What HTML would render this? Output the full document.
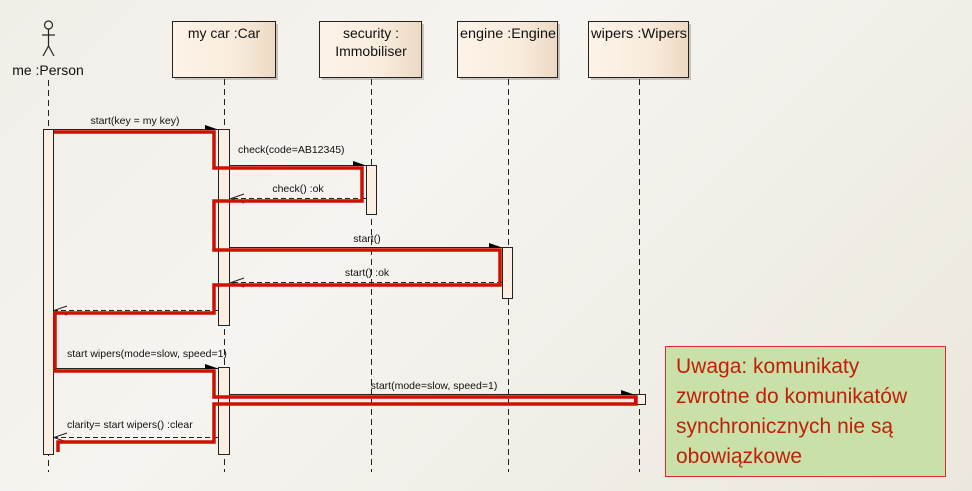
<!DOCTYPE html>
<html><head><meta charset="utf-8"><style>
html,body{margin:0;padding:0}
body{width:972px;height:491px;overflow:hidden;background:linear-gradient(135deg,#f1eee8 0%,#f6f4f0 40%,#ebe7dd 100%);font-family:"Liberation Sans",sans-serif}
svg{position:absolute;left:0;top:0}
.note{position:absolute;left:665px;top:346px;width:281px;height:131px;background:#c9e0a8;border:1px solid #d03030;color:#c0200a;font-family:"Liberation Sans",sans-serif;font-size:21px;line-height:30px;padding:5px 0 0 10px;box-sizing:border-box;white-space:nowrap}
</style></head><body>
<svg width="972" height="491" xmlns="http://www.w3.org/2000/svg" font-family="Liberation Sans, sans-serif">
<defs>
<linearGradient id="g" x1="0" x2="1" y1="0" y2="0"><stop offset="0" stop-color="#fdf3e8"/><stop offset="0.6" stop-color="#f9ecdd"/><stop offset="1" stop-color="#ecd9c3"/></linearGradient>
</defs>
<g fill="#c8c2b8">
<rect x="175" y="24" width="103" height="56"/><rect x="322" y="24" width="102" height="56"/><rect x="460" y="24" width="100" height="56"/><rect x="591" y="24" width="100" height="56"/>
</g>
<g fill="url(#g)" stroke="#222" stroke-width="1">
<rect x="172.5" y="21.5" width="103" height="56"/><rect x="319.5" y="21.5" width="102" height="56"/><rect x="457.5" y="21.5" width="100" height="56"/><rect x="588.5" y="21.5" width="100" height="56"/>
</g>
<g font-size="14" fill="#111" text-anchor="middle">
<text x="224" y="38">my car :Car</text>
<text x="371" y="38">security :</text><text x="371" y="56">Immobiliser</text>
<text x="508" y="38" textLength="96" lengthAdjust="spacingAndGlyphs">engine :Engine</text>
<text x="639" y="38" textLength="96" lengthAdjust="spacingAndGlyphs">wipers :Wipers</text>
<text x="48" y="75">me :Person</text>
</g>
<g stroke="#222" stroke-width="1.2" fill="none">
<circle cx="48.5" cy="25" r="4"/><line x1="48.5" y1="29" x2="48.5" y2="46"/><line x1="42" y1="35" x2="55" y2="35"/><line x1="48.5" y1="46" x2="43" y2="56"/><line x1="48.5" y1="46" x2="54" y2="56"/>
</g>
<g stroke="#222" stroke-width="1" stroke-dasharray="6,4">
<line x1="48.5" y1="80" x2="48.5" y2="472"/><line x1="224.5" y1="79" x2="224.5" y2="472"/><line x1="371.5" y1="79" x2="371.5" y2="472"/><line x1="508.5" y1="79" x2="508.5" y2="472"/><line x1="639.5" y1="79" x2="639.5" y2="472"/>
</g>
<g fill="#fbefe3" stroke="#222" stroke-width="1">
<rect x="43.5" y="129.5" width="10" height="325"/>
<rect x="218.5" y="129.5" width="11" height="196"/>
<rect x="218.5" y="367.5" width="11" height="87"/>
<rect x="366.5" y="165.5" width="10" height="49"/>
<rect x="502.5" y="247.5" width="10" height="51"/>
<rect x="634.5" y="394.5" width="11" height="10"/>
</g>
<g stroke="#222" stroke-width="1" fill="none">
<line x1="53" y1="129.5" x2="218" y2="129.5"/>
<line x1="229" y1="165.5" x2="366" y2="165.5"/>
<line x1="229" y1="247.5" x2="502" y2="247.5"/>
<line x1="53" y1="368.5" x2="218" y2="368.5"/>
<line x1="229" y1="394.5" x2="634" y2="394.5"/>
<g stroke-dasharray="5,3">
<line x1="366" y1="198.5" x2="230" y2="198.5"/>
<line x1="502" y1="282.5" x2="230" y2="282.5"/>
<line x1="218" y1="310.5" x2="54" y2="310.5"/>
<line x1="218" y1="437.5" x2="54" y2="437.5"/>
</g>
<path d="M244 194 L231 198.5 L244 203"/><path d="M244 278 L231 282.5 L244 287"/><path d="M67 306 L54 310.5 L67 315"/><path d="M67 433 L54 437.5 L67 442"/>
</g>
<g fill="#000">
<path d="M205 125 L218 129.5 L205 130 Z"/><path d="M353 161 L366 165.5 L353 166 Z"/><path d="M489 243 L502 247.5 L489 248 Z"/><path d="M205 364 L218 368.5 L205 369 Z"/><path d="M621 390 L634 394.5 L621 395 Z"/>
</g>
<g font-size="10.5" fill="#111">
<text x="135" y="124" text-anchor="middle">start(key = my key)</text>
<text x="238" y="153">check(code=AB12345)</text>
<text x="298" y="192" text-anchor="middle">check() :ok</text>
<text x="367" y="242" text-anchor="middle">start()</text>
<text x="367" y="276" text-anchor="middle">start() :ok</text>
<text x="67" y="357">start wipers(mode=slow, speed=1)</text>
<text x="434" y="389" text-anchor="middle">start(mode=slow, speed=1)</text>
<text x="67" y="428">clarity= start wipers() :clear</text>
</g>
<path d="M54 132 H214 V168 H362 V201 H214 V250 H500 V285 H214 V313 H55 V371 H214 V397 H636 V404 H214 V442 H58 V452" fill="none" stroke="#cc1100" stroke-width="3.5"/>
</svg>
<div class="note">Uwaga: komunikaty<br>zwrotne do komunikatów<br>synchronicznych nie są<br>obowiązkowe</div>
</body></html>
